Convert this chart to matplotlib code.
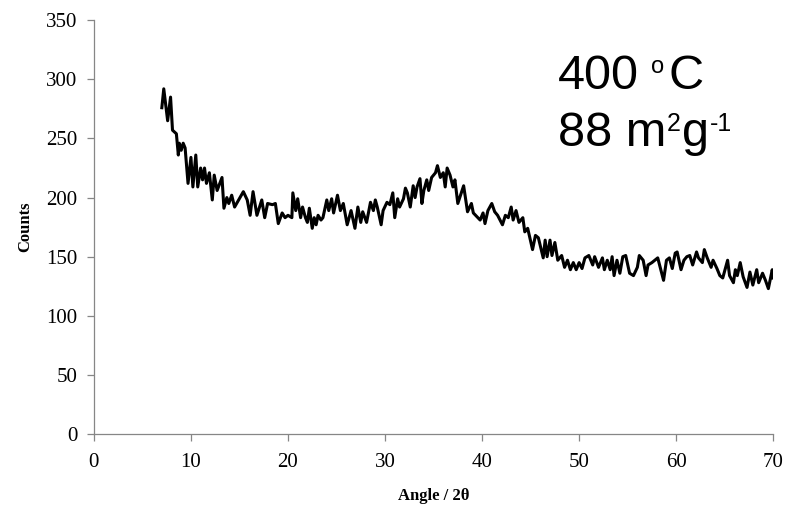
import matplotlib.pyplot as plt
from matplotlib.transforms import offset_copy

# XRD pattern (angle in 2theta, counts)
angle = [
    7.0, 7.2, 7.6, 7.9, 8.1, 8.5, 8.7, 8.8, 9.0, 9.2, 9.4, 9.7, 10.0, 10.2,
    10.5, 10.7, 11.0, 11.2, 11.4, 11.6, 11.9, 12.2, 12.4, 12.7, 13.2, 13.4,
    13.7, 13.9, 14.2, 14.5, 15.4, 15.8, 16.1, 16.4, 16.8, 17.3, 17.6, 17.9,
    18.4, 18.7, 19.0, 19.4, 19.7, 20.0, 20.4, 20.5, 20.8, 21.0, 21.3, 21.5,
    21.8, 22.0, 22.2, 22.5, 22.7, 22.9, 23.1, 23.4, 23.6, 24.0, 24.2, 24.5,
    24.7, 25.1, 25.4, 25.7, 26.1, 26.5, 26.9, 27.2, 27.5, 27.7, 28.1, 28.5,
    28.8, 29.0, 29.2, 29.6, 29.8, 30.2, 30.5, 30.8, 31.0, 31.3, 31.5, 31.9,
    32.1, 32.3, 32.6, 32.9, 33.1, 33.3, 33.6, 33.8, 34.0, 34.3, 34.5, 34.8,
    35.2, 35.4, 35.7, 36.0, 36.2, 36.4, 36.7, 37.0, 37.2, 37.5, 37.9, 38.1,
    38.5, 38.9, 39.1, 39.8, 40.1, 40.3, 40.6, 41.0, 41.3, 41.6, 42.1, 42.4,
    42.7, 43.0, 43.2, 43.5, 43.8, 44.2, 44.4, 44.7, 45.2, 45.5, 45.8, 46.3,
    46.5, 46.7, 47.0, 47.2, 47.5, 47.8, 48.2, 48.5, 48.8, 49.1, 49.4, 49.7,
    50.0, 50.3, 50.6, 51.0, 51.4, 51.6, 52.0, 52.4, 52.6, 52.9, 53.2, 53.4,
    53.6, 53.9, 54.2, 54.5, 54.8, 55.2, 55.6, 56.0, 56.2, 56.6, 56.9, 57.1,
    57.5, 57.8, 58.1, 58.7, 59.0, 59.3, 59.6, 59.9, 60.1, 60.5, 60.8, 61.1,
    61.4, 61.7, 62.1, 62.3, 62.7, 62.9, 63.2, 63.6, 63.8, 64.2, 64.5, 64.8,
    65.3, 65.5, 65.9, 66.1, 66.3, 66.6, 66.9, 67.3, 67.6, 67.9, 68.3, 68.5,
    68.9, 69.2, 69.5, 69.9, 70.0,
]
counts = [
    276, 292, 265, 285, 257, 254, 236, 246, 240, 246, 242, 212, 234, 209,
    236, 209, 225, 215, 225, 212, 221, 198, 219, 206, 217, 191, 200, 195,
    202, 192, 205, 198, 185, 205, 185, 198, 183, 195, 194, 195, 178, 187,
    183, 185, 183, 204, 189, 199, 183, 192, 183, 179, 191, 174, 183, 177,
    185, 181, 183, 198, 189, 199, 187, 202, 189, 195, 177, 189, 174, 192,
    179, 188, 179, 196, 189, 198, 192, 177, 189, 196, 194, 204, 183, 199,
    192, 199, 208, 204, 192, 210, 200, 209, 216, 195, 206, 215, 206, 217,
    221, 227, 217, 221, 209, 225, 219, 209, 215, 195, 205, 210, 188, 195,
    187, 181, 187, 178, 189, 195, 188, 185, 177, 185, 183, 192, 181, 189,
    179, 183, 171, 174, 156, 168, 166, 149, 164, 150, 164, 151, 162, 147,
    151, 141, 147, 139, 145, 139, 145, 140, 149, 151, 143, 150, 141, 149,
    139, 147, 139, 150, 134, 147, 136, 150, 151, 136, 134, 141, 151, 147,
    134, 143, 145, 147, 149, 130, 147, 149, 140, 153, 154, 139, 147, 150,
    151, 143, 154, 149, 145, 156, 149, 141, 147, 140, 134, 132, 147, 134,
    128, 139, 134, 145, 133, 124, 137, 126, 139, 128, 136, 130, 123, 139,
    132,
]

x_ticks = [0, 10, 20, 30, 40, 50, 60, 70]
y_ticks = [0, 50, 100, 150, 200, 250, 300, 350]

# annotation pieces: (text, fontsize, rise in pixels, gap after in pixels)
line1 = [("400", 35, 0, 12), ("o", 17, 16, 5), ("C", 35, 0, 0)]
line2 = [("88 m", 35, 0, 1), ("2", 18, 15, 1), ("g", 35, 0, 1), ("-1", 18, 15, 0)]


def draw_pieces(ax, x, y, pieces, renderer):
    """Writes text pieces one after another, with raised small parts."""
    advance = 0.0
    for s, size, rise, gap in pieces:
        trans = offset_copy(ax.transData, fig=ax.figure, x=advance, y=rise, units="dots")
        t = ax.text(x, y, s, fontsize=size, fontfamily="Liberation Sans",
                    va="baseline", ha="left", transform=trans)
        advance += t.get_window_extent(renderer).width + gap


fig = plt.figure(figsize=(7.89, 5.14), dpi=100)
ax = fig.add_axes([0.119, 0.1556, 0.861, 0.805])

ax.plot(angle, counts, color="black", linewidth=2.2)

ax.set_xlim(0, 70)
ax.set_ylim(0, 350)
ax.set_xticks(x_ticks)
ax.set_yticks(y_ticks)

for side in ("top", "right"):
    ax.spines[side].set_visible(False)
for side in ("left", "bottom"):
    ax.spines[side].set_color("#868686")
    ax.spines[side].set_linewidth(0.9)

ax.tick_params(direction="out", length=5, width=0.9, color="#868686", labelsize=15)
ax.tick_params(axis="x", pad=9)
ax.tick_params(axis="y", pad=7)
for lab in ax.get_xticklabels() + ax.get_yticklabels():
    lab.set_fontfamily("Liberation Serif")

ax.set_xlabel("Angle / 2θ", fontfamily="Liberation Serif", fontweight="bold",
              fontsize=12, labelpad=11)
ax.set_ylabel("Counts", fontfamily="Liberation Serif", fontweight="bold",
              fontsize=12, labelpad=9)

renderer = fig.canvas.get_renderer()
draw_pieces(ax, 47.8, 292, line1, renderer)
draw_pieces(ax, 47.8, 244, line2, renderer)

fig.savefig("out.png", dpi=100)
